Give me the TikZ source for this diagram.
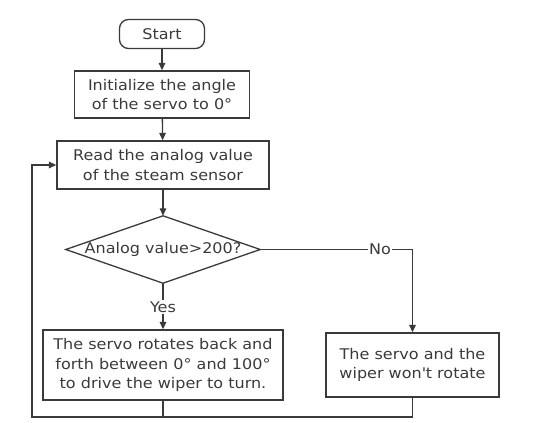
\documentclass[tikz,border=0pt]{standalone}
\usepackage{fontspec}
\setmainfont{DejaVu Sans}[FakeStretch=1.09]
\usetikzlibrary{arrows.meta}
\definecolor{linegray}{HTML}{3A3A3A}

\begin{document}
\begin{tikzpicture}[x=1pt,y=-1pt,
    every node/.style={font=\fontsize{14.7}{19.3}\selectfont, text=linegray, align=center},
    box/.style={draw=linegray, line width=1.3pt, inner sep=0pt},
    flow/.style={draw=linegray, line width=1.3pt, -{Triangle[length=7.5pt,width=6.5pt]}},
    plain/.style={draw=linegray, line width=1.3pt}]
    \useasboundingbox (0,0) rectangle (549,423);

    \node[box, rounded corners=9pt, minimum width=85pt, minimum height=29pt] (start) at (162,34) {Start};
    \node[box, minimum width=175pt, minimum height=47pt] (init) at (162,94.5) {Initialize the angle\\of the servo to 0°};
    \node[box, minimum width=212pt, minimum height=48pt] (read) at (163,165) {Read the analog value\\of the steam sensor};
    \node[minimum width=194pt, minimum height=67pt, inner sep=0pt] (check) at (163,249.5) {Analog value>200?};
    \draw[plain] (check.north) -- (check.east) -- (check.south) -- (check.west) -- cycle;
    \node[box, minimum width=240pt, minimum height=70pt] (turn) at (163,365) {The servo rotates back and\\forth between 0° and 100°\\to drive the wiper to turn.};
    \node[box, minimum width=173pt, minimum height=64pt] (stay) at (412.5,365) {The servo and the\\wiper won\textquotesingle t rotate};
    \node[fill=white, inner sep=1pt] (no) at (380,249.5) {No};
    \node[fill=white, inner sep=1pt] (yes) at (163,307) {Yes};
    \coordinate (corner) at (412.5,249.5);
    \coordinate (lowleft) at (32,417);
    \coordinate (upleft) at (32,165);

    \draw[flow] (start) -- (init);
    \draw[flow] (init) -- (read);
    \draw[flow] (read) -- (check.north);
    \draw[plain] (check.south) -- (yes);
    \draw[flow] (yes) -- (turn);
    \draw[plain] (check.east) -- (no);
    \draw[flow] (no) -- (corner) -- (stay);
    \draw[plain] (turn.south) -- (turn.south |- lowleft);
    \draw[flow] (stay.south) -- (stay.south |- lowleft) -- (lowleft) -- (upleft) -- (read.west);
\end{tikzpicture}
\end{document}
